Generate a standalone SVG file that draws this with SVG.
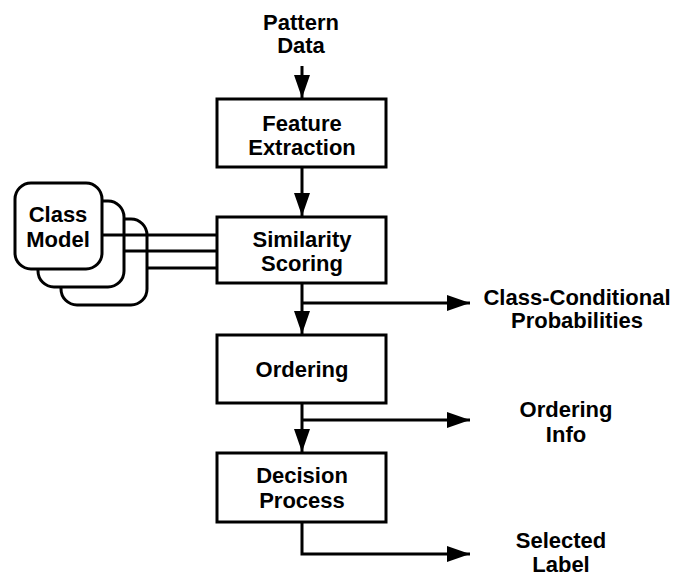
<svg xmlns="http://www.w3.org/2000/svg" width="678" height="578" viewBox="0 0 678 578">
  <style>
    .box { fill: #ffffff; stroke: #000000; stroke-width: 3; }
    .card { fill: #ffffff; stroke: #000000; stroke-width: 3; }
    .wire { fill: none; stroke: #000000; stroke-width: 3; }
    .lbl { font-family: "Liberation Sans", Arial, sans-serif; font-weight: bold; font-size: 22px; fill: #000000; text-anchor: middle; }
  </style>
  <defs>
    <marker id="arrow" markerUnits="userSpaceOnUse" markerWidth="24" markerHeight="18" viewBox="0 0 24 18" refX="23" refY="9" orient="auto">
      <path d="M0,1 L23,9 L0,17 Z" fill="#000000"/>
    </marker>
  </defs>

  <!-- stacked class model cards -->
  <g id="class-model">
    <rect class="card" x="61" y="219" width="86" height="86" rx="16" ry="16"/>
    <rect class="card" x="38" y="201" width="86" height="86" rx="16" ry="16"/>
    <rect class="card" x="15" y="183" width="87" height="86" rx="16" ry="16"/>
    <text class="lbl" x="58" y="222">Class</text>
    <text class="lbl" x="58" y="247">Model</text>
  </g>

  <g id="feature-extraction">
    <rect class="box" x="217" y="99" width="169" height="68"/>
    <text class="lbl" x="302" y="131">Feature</text>
    <text class="lbl" x="302" y="155">Extraction</text>
  </g>

  <g id="similarity-scoring">
    <rect class="box" x="217" y="217" width="169" height="66"/>
    <text class="lbl" x="302" y="247">Similarity</text>
    <text class="lbl" x="302" y="271">Scoring</text>
  </g>

  <g id="ordering">
    <rect class="box" x="217" y="335" width="169" height="68"/>
    <text class="lbl" x="302" y="377">Ordering</text>
  </g>

  <g id="decision-process">
    <rect class="box" x="217" y="453" width="169" height="69"/>
    <text class="lbl" x="302" y="483">Decision</text>
    <text class="lbl" x="302" y="508">Process</text>
  </g>

  <g id="pattern-data">
    <text class="lbl" x="301" y="30">Pattern</text>
    <text class="lbl" x="301" y="53">Data</text>
  </g>

  <g id="class-conditional-probabilities">
    <text class="lbl" x="577" y="305">Class-Conditional</text>
    <text class="lbl" x="577" y="328">Probabilities</text>
  </g>

  <g id="ordering-info">
    <text class="lbl" x="566" y="417">Ordering</text>
    <text class="lbl" x="566" y="442">Info</text>
  </g>

  <g id="selected-label">
    <text class="lbl" x="561" y="548">Selected</text>
    <text class="lbl" x="561" y="572">Label</text>
  </g>

  <g id="connectors">
    <!-- model links into scoring -->
    <line class="wire" x1="102" y1="235" x2="217" y2="235"/>
    <line class="wire" x1="124" y1="251" x2="217" y2="251"/>
    <line class="wire" x1="147" y1="268" x2="217" y2="268"/>
    <!-- main flow -->
    <line class="wire" x1="302" y1="66" x2="302" y2="98" marker-end="url(#arrow)"/>
    <line class="wire" x1="302" y1="167" x2="302" y2="216" marker-end="url(#arrow)"/>
    <line class="wire" x1="302" y1="283" x2="302" y2="334" marker-end="url(#arrow)"/>
    <line class="wire" x1="302" y1="403" x2="302" y2="452" marker-end="url(#arrow)"/>
    <!-- outputs -->
    <line class="wire" x1="302" y1="303" x2="470" y2="303" marker-end="url(#arrow)"/>
    <line class="wire" x1="302" y1="420" x2="470" y2="420" marker-end="url(#arrow)"/>
    <polyline class="wire" points="302,522 302,554 470,554" marker-end="url(#arrow)"/>
  </g>
</svg>
